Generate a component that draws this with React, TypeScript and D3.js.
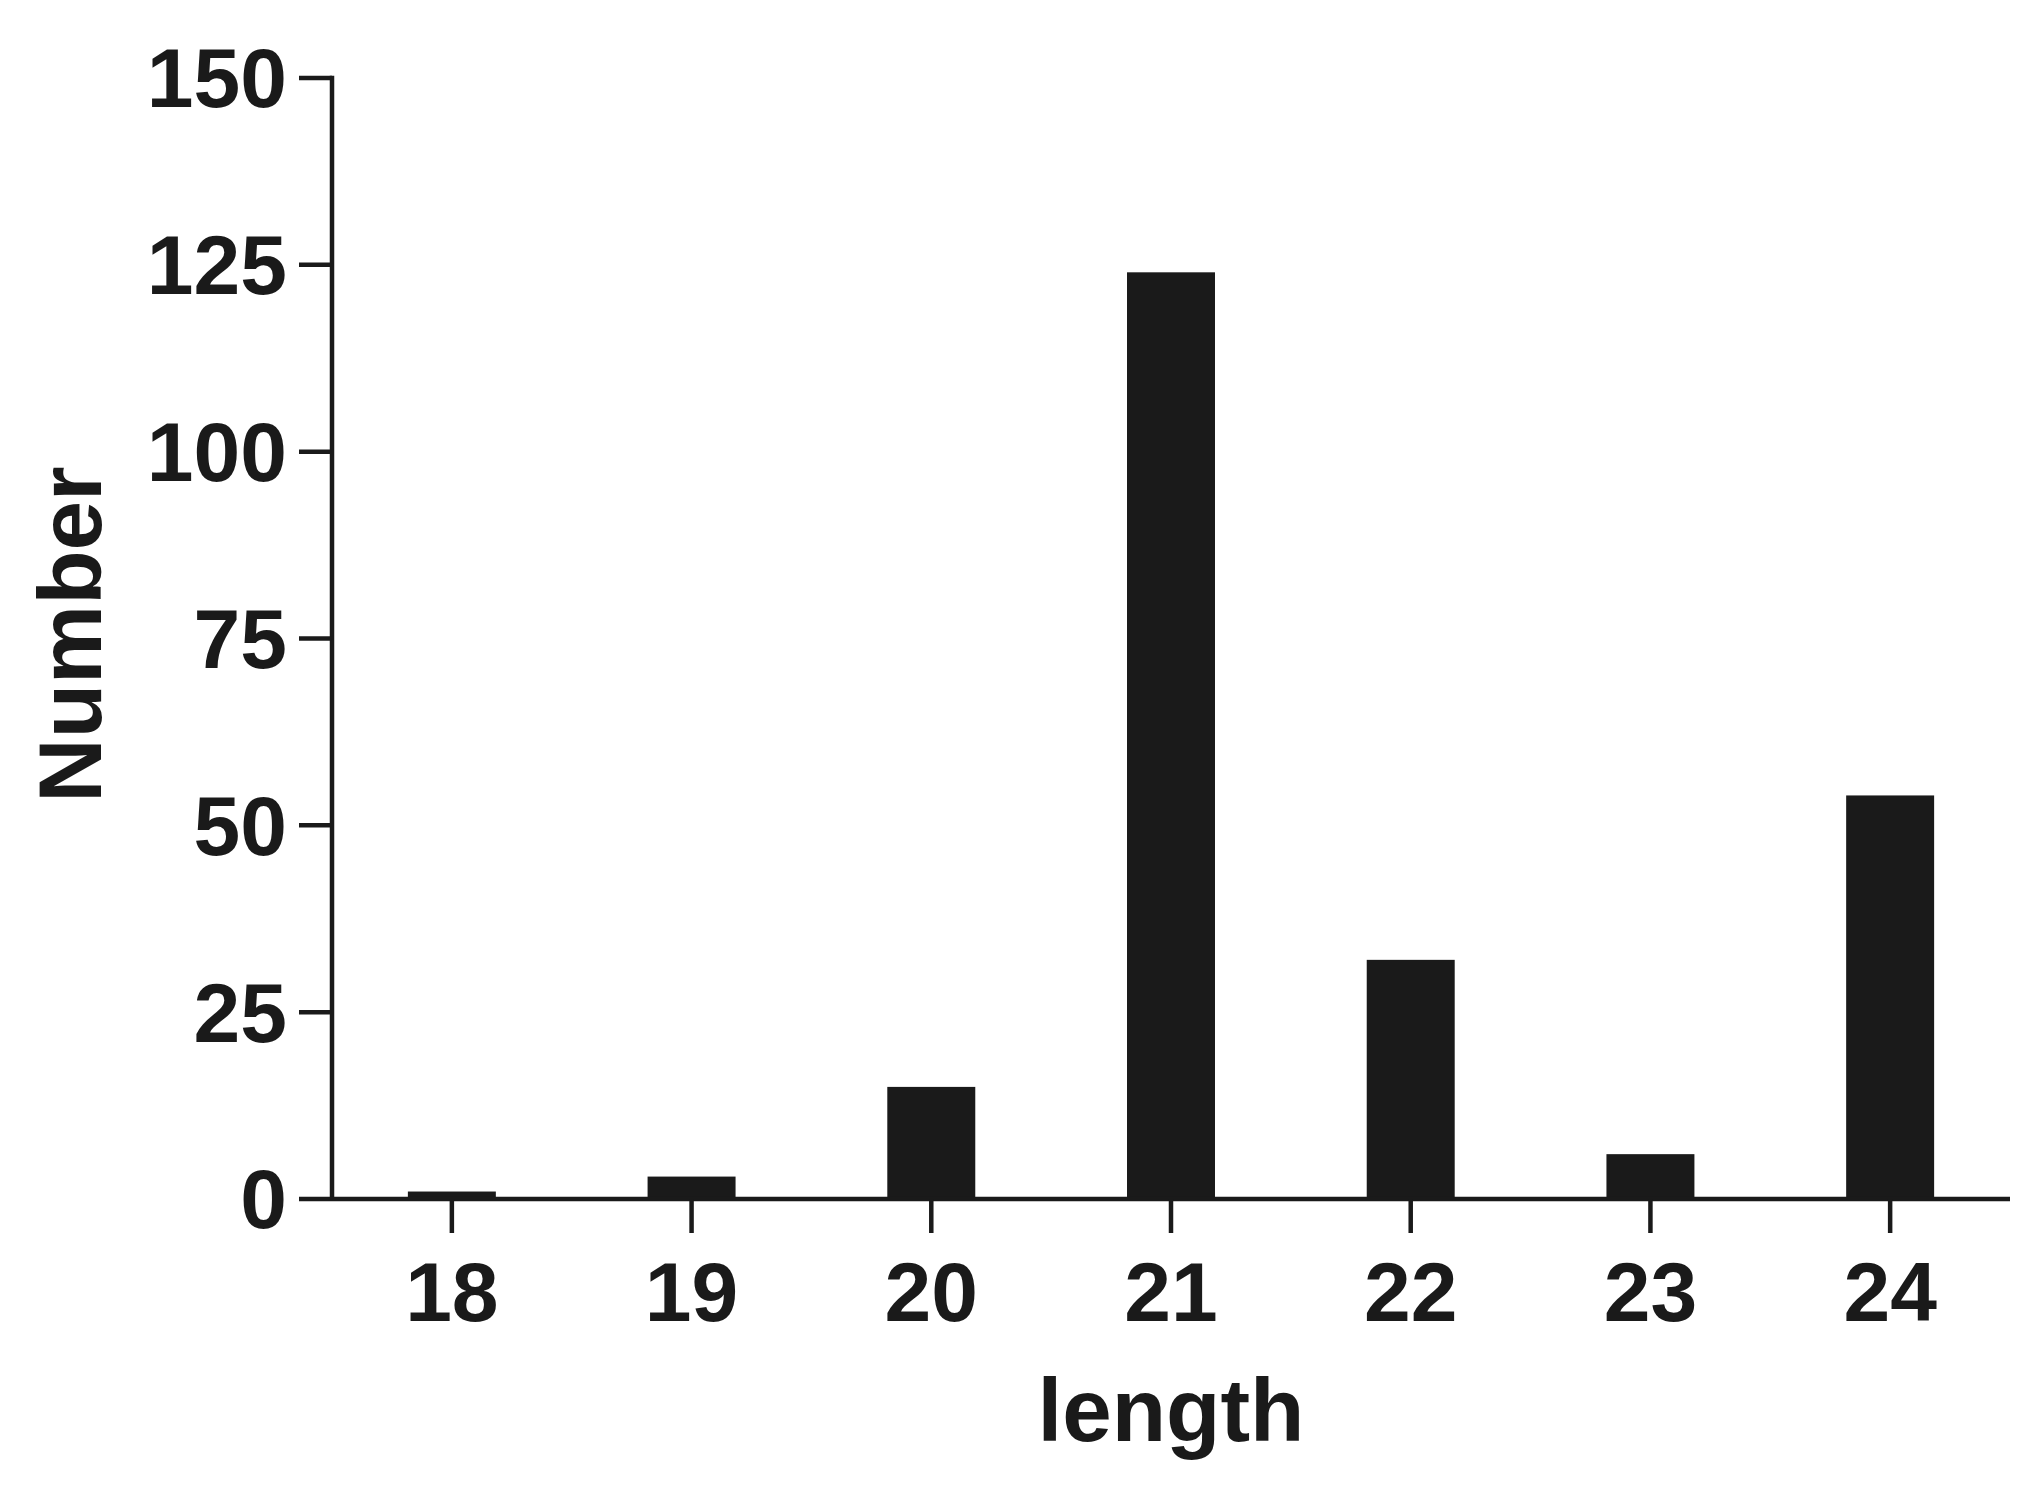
import React from "react";
import * as d3 from "d3";

const categories = ["18", "19", "20", "21", "22", "23", "24"];
const counts = [1, 3, 15, 124, 32, 6, 54];
const yTicks = [0, 25, 50, 75, 100, 125, 150];
const xTitle = "length";
const yTitle = "Number";

const W = 2040;
const H = 1487;
const left = 332;
const right = 2010;
const top = 78;
const bottom = 1199;
const ink = "#1a1a1a";
const font = "'Liberation Sans', Arial, Helvetica, sans-serif";
const sw = 4.5;

export default function App() {
  const x = d3
    .scaleBand<string>()
    .domain(categories)
    .range([left, right])
    .paddingInner(0.633)
    .paddingOuter(0.3165);
  const y = d3.scaleLinear().domain([0, 150]).range([bottom, top]);
  const bw = x.bandwidth();

  return (
    <svg
      width={W}
      height={H}
      style={{ position: "absolute", left: 0, top: 0, background: "#fff" }}
      fontFamily={font}
    >
      <rect x={0} y={0} width={W} height={H} fill="#fff" />
      {categories.map((c, i) => (
        <rect
          key={c}
          x={x(c)!}
          y={y(counts[i])}
          width={bw}
          height={y(0) - y(counts[i])}
          fill={ink}
        />
      ))}
      {/* y axis */}
      <line x1={left} x2={left} y1={y(150) - sw / 2} y2={y(0)} stroke={ink} strokeWidth={sw} />
      {yTicks.map((t) => (
        <g key={t}>
          <line x1={left - 33} x2={left} y1={y(t)} y2={y(t)} stroke={ink} strokeWidth={sw} />
          <text
            x={left - 45}
            y={y(t)}
            dy="0.35em"
            textAnchor="end"
            fontSize={84}
            fontWeight="bold"
            fill={ink}
          >
            {t}
          </text>
        </g>
      ))}
      {/* x axis */}
      <line x1={left} x2={right} y1={y(0)} y2={y(0)} stroke={ink} strokeWidth={sw} />
      {categories.map((c) => {
        const cx = x(c)! + bw / 2;
        return (
          <g key={c}>
            <line x1={cx} x2={cx} y1={y(0)} y2={y(0) + 34} stroke={ink} strokeWidth={sw} />
            <text
              x={cx}
              y={y(0) + 122}
              textAnchor="middle"
              fontSize={84}
              fontWeight="bold"
              fill={ink}
            >
              {c}
            </text>
          </g>
        );
      })}
      <text
        x={(left + right) / 2}
        y={1441}
        textAnchor="middle"
        fontSize={89}
        fontWeight="bold"
        fill={ink}
      >
        {xTitle}
      </text>
      <text
        transform={`translate(101, ${(top + bottom) / 2 - 4}) rotate(-90)`}
        textAnchor="middle"
        fontSize={89}
        fontWeight="bold"
        fill={ink}
      >
        {yTitle}
      </text>
    </svg>
  );
}
